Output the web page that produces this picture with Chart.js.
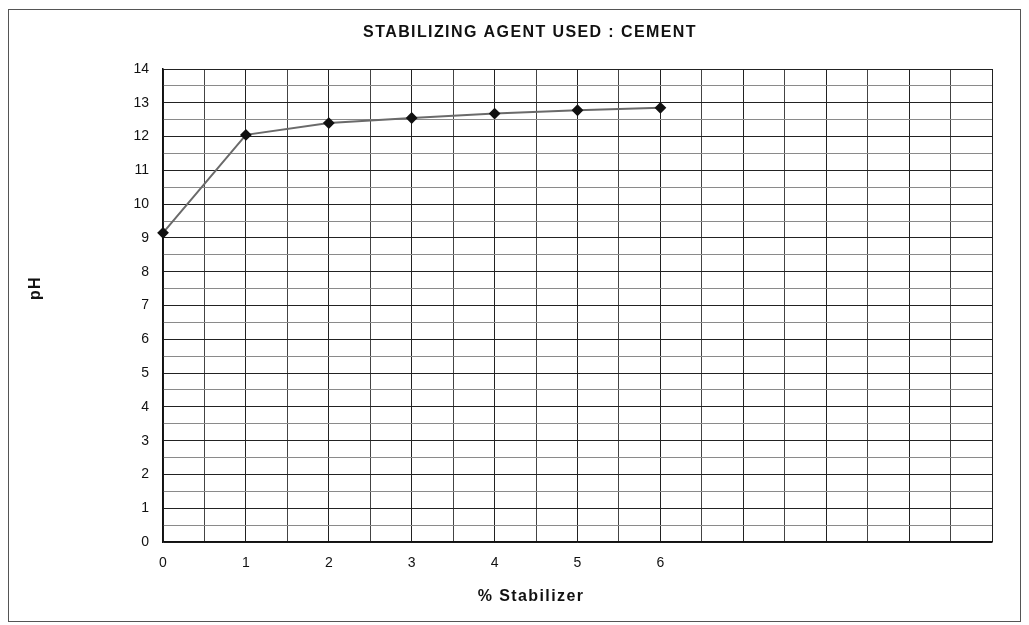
<!DOCTYPE html>
<html>
<head>
<meta charset="utf-8">
<script src="https://cdn.jsdelivr.net/npm/chart.js@4.4.0/dist/chart.umd.min.js"></script>
<style>
  body { margin: 0; background: #fff; }
  canvas { display: block; }
</style>
</head>
<body>
<canvas id="phChart" width="1029" height="625"></canvas>
<script>
var stabilizer = [0, 1, 2, 3, 4, 5, 6];
var phValues = [9.15, 12.05, 12.4, 12.55, 12.68, 12.78, 12.85];
var xTickLabels = ['0', '1', '2', '3', '4', '5', '6'];
var yTickLabels = ['0', '1', '2', '3', '4', '5', '6', '7', '8', '9', '10', '11', '12', '13', '14'];

var chartTitle = 'STABILIZING AGENT USED : CEMENT';
var xTitle = '% Stabilizer';
var yTitle = 'pH';

var FONT = '"Liberation Sans", Arial, sans-serif';

// frame + titles drawn around the plot
var decorations = {
    id: 'decorations',
    beforeDraw: function(chart) {
        var c = chart.ctx;
        c.save();
        c.strokeStyle = '#555';
        c.lineWidth = 1;
        c.strokeRect(8.5, 9.5, 1012, 612);
        c.restore();
    },
    afterDraw: function(chart) {
        var c = chart.ctx;
        c.save();
        c.fillStyle = '#111';
        c.textAlign = 'center';
        c.textBaseline = 'middle';
        c.font = 'bold 16px ' + FONT;
        c.letterSpacing = '1.4px';
        c.fillText(chartTitle, 530, 33);
        c.fillText(xTitle, 531, 597);
        c.translate(36, 288);
        c.rotate(-Math.PI / 2);
        c.fillText(yTitle, 0, 0);
        c.restore();
    }
};

var ctx = document.getElementById('phChart').getContext('2d');

var points = stabilizer.map(function(x, i) {
    return { x: x, y: phValues[i] };
});

var myChart = new Chart(ctx, {
    type: 'line',
    data: {
        datasets: [
            {
                label: 'pH',
                data: points,
                borderColor: '#6a6a6a',
                borderWidth: 2,
                pointStyle: 'rectRot',
                pointRadius: 4.5,
                pointBackgroundColor: '#111',
                pointBorderColor: '#111',
                tension: 0,
                clip: false
            }
        ]
    },
    options: {
        responsive: false,
        animation: false,
        layout: { padding: { top: 69, right: 37, left: 0, bottom: 0 } },
        plugins: {
            legend: { display: false },
            tooltip: { enabled: false }
        },
        scales: {
            x: {
                type: 'linear',
                min: 0,
                max: 10,
                afterFit: function(scale) { scale.height = 83; },
                ticks: {
                    stepSize: 0.5,
                    autoSkip: false,
                    maxRotation: 0,
                    padding: 13,
                    color: '#111',
                    font: { family: FONT, size: 14 },
                    callback: function(v) {
                        var i = stabilizer.indexOf(v);
                        return i >= 0 ? xTickLabels[i] : '';
                    }
                },
                grid: {
                    drawTicks: false,
                    color: function(c) {
                        return c.tick && c.tick.value % 1 === 0 ? '#222' : '#444';
                    },
                    lineWidth: 1
                },
                border: { color: '#111', width: 1.5 }
            },
            y: {
                min: 0,
                max: 14,
                afterFit: function(scale) { scale.width = 163; },
                ticks: {
                    stepSize: 0.5,
                    autoSkip: false,
                    padding: 14,
                    color: '#111',
                    font: { family: FONT, size: 14 },
                    callback: function(v) {
                        return v % 1 === 0 ? yTickLabels[v] : '';
                    }
                },
                grid: {
                    drawTicks: false,
                    color: function(c) {
                        return c.tick && c.tick.value % 1 === 0 ? '#222' : '#8a8a8a';
                    },
                    lineWidth: 1
                },
                border: { color: '#111', width: 1.5 }
            }
        }
    },
    plugins: [decorations]
});
</script>
</body>
</html>
